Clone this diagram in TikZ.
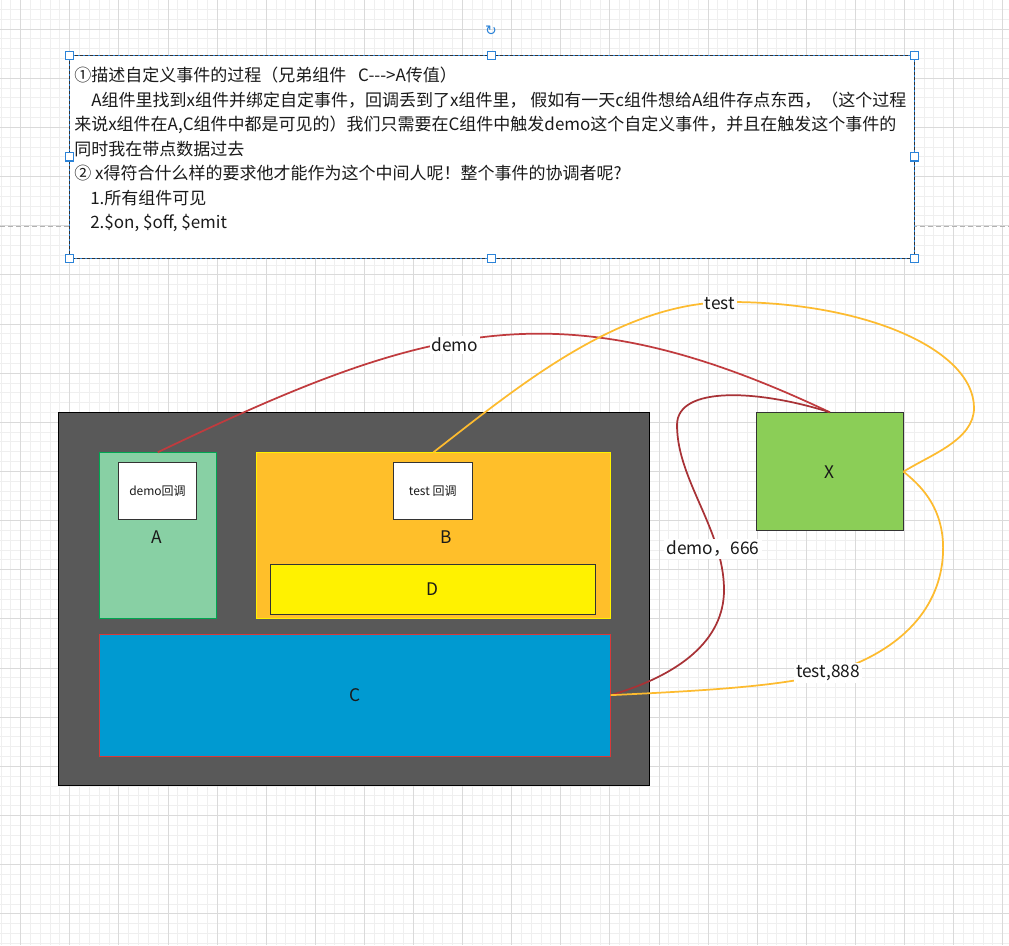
\documentclass[tikz,border=0pt]{standalone}
\usepackage{fontspec}
\setmainfont{Noto Sans CJK SC}
\newfontfamily\dejavu{DejaVu Sans}
\definecolor{gridminor}{HTML}{EFEFEF}
\definecolor{gridmajor}{HTML}{DADADA}
\definecolor{outerfill}{HTML}{595959}
\definecolor{afill}{HTML}{88D0A4}
\definecolor{aborder}{HTML}{00A651}
\definecolor{bfill}{HTML}{FFBF2A}
\definecolor{cfill}{HTML}{009AD1}
\definecolor{cborder}{HTML}{D83A3A}
\definecolor{xfill}{HTML}{8BCE57}
\definecolor{redline}{HTML}{C03B3E}
\definecolor{redline2}{HTML}{A83236}
\definecolor{yelline}{HTML}{FDBB2F}
\definecolor{selblue}{HTML}{2B83D8}
\definecolor{txt}{HTML}{1A1A1A}
\begin{document}
\begin{tikzpicture}[x=0.75pt,y=-0.75pt,
  box/.style={draw, inner sep=0pt, outer sep=0pt, line width=0.75pt},
  lbl/.style={font=\fontsize{13}{15}\selectfont, text=txt, inner sep=0pt},
  small/.style={font=\fontsize{9}{11}\selectfont, text=txt},
  conlbl/.style={font=\fontsize{13}{15}\selectfont, text=txt, fill=white, inner sep=1.5pt},
  textline/.style={anchor=base west, inner sep=0pt, font=\fontsize{12.75}{14}\selectfont, text=txt},
  handle/.style={draw=selblue, fill=white, line width=0.75pt, minimum size=6pt, inner sep=0pt},
  conn/.style={line width=1.3pt}]
\useasboundingbox (0,0) rectangle (1009,945);
\fill[white] (0,0) rectangle (1009,945);
% grid
\foreach \i in {0,...,102} {\pgfmathsetmacro\xx{1.06+9.82*\i}
  \draw[gridminor, line width=0.75pt] (\xx,0) -- (\xx,945);}
\foreach \i in {0,...,96} {\pgfmathsetmacro\yy{-0.36+9.83*\i}
  \draw[gridminor, line width=0.75pt] (0,\yy) -- (1009,\yy);}
\foreach \i in {0,...,20} {\pgfmathsetmacro\xx{20.7+49.1*\i}
  \draw[gridmajor, line width=0.75pt] (\xx,0) -- (\xx,945);}
\foreach \i in {0,...,18} {\pgfmathsetmacro\yy{29.1+49.15*\i}
  \draw[gridmajor, line width=0.75pt] (0,\yy) -- (1009,\yy);}
% page break line
\draw[color=black!30, line width=0.75pt, dash pattern=on 3.75pt off 2.25pt] (0,226.5) -- (1009,226.5);
% text box
\node[fill=white, inner sep=0pt, outer sep=0pt, minimum width=633.75pt, minimum height=151.5pt] (tb) at (491.5,157) {};
\draw[selblue, line width=0.75pt] (tb.north west) rectangle (tb.south east);
\draw[black!80, line width=0.75pt, dash pattern=on 2.25pt off 1.5pt] (tb.north west) rectangle (tb.south east);
\foreach \p in {north west,north,north east,west,east,south west,south,south east}
  \node[handle] at (tb.\p) {};
\node[text=selblue, inner sep=0pt, font=\dejavu\fontsize{10.5}{12}\selectfont] (rot) at (491,31) {↻};
\node[textline] (l1) at (74,82) {①描述自定义事件的过程（兄弟组件\hspace{0.7em}C-{}-{}->A传值）};
\node[textline] (l2) at (74,106.4) {\hspace{1em}A组件里找到x组件并绑定自定事件，回调丢到了x组件里，\ 假如有一天c组件想给A组件存点东西，（这个过程};
\node[textline] (l3) at (74,130.8) {来说x组件在A,C组件中都是可见的）我们只需要在C组件中触发demo这个自定义事件，并且在触发这个事件的};
\node[textline] (l4) at (74,155.2) {同时我在带点数据过去};
\node[textline] (l5) at (74,179.6) {② x得符合什么样的要求他才能作为这个中间人呢！整个事件的协调者呢?};
\node[textline] (l6) at (90,204) {1.所有组件可见};
\node[textline] (l7) at (90,228.4) {2.\$on, \$off, \$emit};
% boxes
\node[box, draw=black, fill=outerfill, minimum width=443.1pt, minimum height=279.4pt] (outer) at (354.1,598.75) {};
\node[box, draw=aborder, fill=afill, minimum width=87.45pt, minimum height=124.5pt] (A) at (157.7,535.3) {};
\node[box, draw=black!80, fill=white, minimum width=58.65pt, minimum height=42.75pt, small] (dcb) at (157.5,490.8) {demo回调};
\node[lbl] (Al) at (156.7,537) {A};
\node[box, draw=yellow, fill=bfill, minimum width=265.65pt, minimum height=124.5pt] (B) at (433.4,535.3) {};
\node[box, draw=black!80, fill=white, minimum width=59.6pt, minimum height=42.75pt, small] (tcb) at (432.75,490.8) {test 回调};
\node[lbl] (Bl) at (446.4,537) {B};
\node[box, draw=black!80, fill=yellow, minimum width=244pt, minimum height=37.5pt, lbl] (D) at (432.85,589.3) {D};
\node[box, draw=cborder, fill=cfill, minimum width=383.3pt, minimum height=91.3pt, lbl] (C) at (354.95,695.15) {C};
\node[box, draw=black!80, fill=xfill, minimum width=110.4pt, minimum height=89pt, lbl] (X) at (829.9,471.65) {X};
% connectors
\draw[conn, redline] (A.north) .. controls (428,323) and (560,284.5) .. (X.north);
\draw[conn, yelline] (B.north) .. controls (520,385) and (620,302) .. (730,302)
   .. controls (865,302) and (974,349.5) .. (974,408)
   .. controls (974,440) and (930,455) .. (X.east);
\draw[conn, redline2] (C.east) .. controls (680,675) and (724,640) .. (724,590)
   .. controls (724,530) and (677,480) .. (677,425)
   .. controls (677,385) and (760,390) .. (X.north);
\draw[conn, yelline] (C.east) .. controls (720,690) and (800,685) .. (845,668)
   .. controls (920,640) and (945,590) .. (943,543)
   .. controls (941,505) and (920,485) .. (X.east);
\node[conlbl] (ldemo) at (455,345) {demo};
\node[conlbl] (ltest) at (720,304) {test};
\node[conlbl] (l666) at (713,549) {demo，666};
\node[conlbl] (l888) at (828,673) {test,888};
\end{tikzpicture}
\end{document}
